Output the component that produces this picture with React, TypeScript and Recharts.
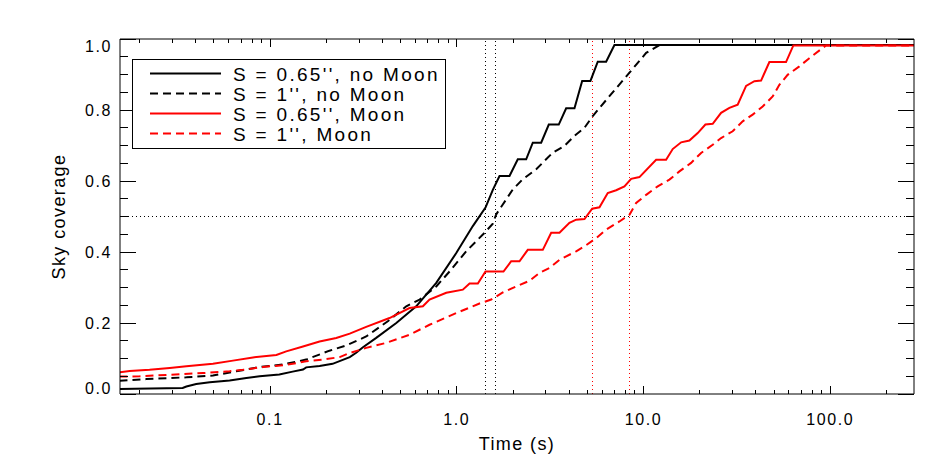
import React from 'react';
import { LineChart, Line, XAxis, YAxis, ReferenceLine } from 'recharts';

document.body.style.margin = '0';

// exposure time (s) and sky coverage
const timeNoMoon65 = [0.0156, 0.0188, 0.034, 0.0356, 0.0402, 0.0475, 0.0607, 0.0746, 0.0879, 0.112, 0.132, 0.150, 0.156, 0.184, 0.216, 0.267, 0.289, 0.313, 0.370, 0.474, 0.606, 0.776, 0.993, 1.218, 1.424, 1.559, 1.693, 1.915, 2.121, 2.352, 2.552, 2.830, 3.109, 3.516, 3.851, 4.267, 4.692, 5.197, 5.687, 6.306, 6.985, 281];
const covNoMoon65 = [0.014, 0.015, 0.017, 0.021, 0.028, 0.033, 0.038, 0.045, 0.050, 0.055, 0.063, 0.069, 0.075, 0.079, 0.085, 0.104, 0.116, 0.131, 0.158, 0.200, 0.247, 0.313, 0.397, 0.473, 0.525, 0.575, 0.614, 0.614, 0.661, 0.661, 0.708, 0.708, 0.759, 0.759, 0.805, 0.805, 0.882, 0.882, 0.936, 0.936, 0.983, 0.983];

const timeNoMoon1 = [0.0156, 0.0217, 0.0356, 0.0494, 0.0659, 0.0879, 0.117, 0.156, 0.208, 0.256, 0.327, 0.427, 0.536, 0.632, 0.776, 0.914, 1.123, 1.407, 1.559, 1.625, 1.763, 1.994, 2.256, 2.662, 3.266, 3.771, 4.267, 4.827, 5.347, 6.568, 8.406, 10.33, 12.17, 281];
const covNoMoon1 = [0.037, 0.042, 0.047, 0.052, 0.064, 0.076, 0.083, 0.097, 0.122, 0.137, 0.162, 0.205, 0.247, 0.266, 0.303, 0.345, 0.402, 0.454, 0.480, 0.506, 0.534, 0.576, 0.605, 0.633, 0.680, 0.699, 0.727, 0.750, 0.783, 0.839, 0.905, 0.961, 0.983, 0.983];

const timeMoon65 = [0.0156, 0.0177, 0.0226, 0.029, 0.0356, 0.0494, 0.0632, 0.0809, 0.108, 0.122, 0.150, 0.184, 0.226, 0.267, 0.327, 0.436, 0.558, 0.658, 0.714, 0.878, 1.077, 1.170, 1.296, 1.424, 1.778, 1.955, 2.166, 2.399, 2.887, 3.202, 3.547, 4.011, 4.357, 4.827, 5.307, 5.807, 6.432, 7.133, 7.902, 8.584, 9.508, 11.68, 13.21, 14.33, 15.90, 17.61, 19.51, 21.45, 23.47, 26.03, 28.84, 31.94, 35.43, 39.24, 42.62, 47.21, 57.98, 63.46, 281];
const covMoon65 = [0.061, 0.065, 0.068, 0.073, 0.078, 0.085, 0.094, 0.103, 0.110, 0.120, 0.134, 0.148, 0.158, 0.170, 0.189, 0.214, 0.242, 0.247, 0.266, 0.285, 0.294, 0.311, 0.311, 0.345, 0.345, 0.374, 0.374, 0.406, 0.406, 0.454, 0.454, 0.482, 0.491, 0.493, 0.522, 0.526, 0.566, 0.574, 0.585, 0.606, 0.611, 0.660, 0.660, 0.690, 0.709, 0.714, 0.735, 0.759, 0.761, 0.792, 0.806, 0.815, 0.868, 0.881, 0.883, 0.935, 0.935, 0.982, 0.982];

const timeMoon1 = [0.0156, 0.020, 0.029, 0.0437, 0.0607, 0.0715, 0.0915, 0.122, 0.156, 0.192, 0.236, 0.262, 0.327, 0.419, 0.558, 0.714, 0.993, 1.323, 1.528, 1.763, 2.080, 2.450, 2.772, 3.136, 3.547, 4.357, 4.827, 5.576, 6.306, 7.430, 8.406, 9.129, 10.33, 11.91, 13.76, 15.57, 17.98, 20.34, 23.47, 26.03, 30.03, 33.97, 38.42, 43.47, 49.17, 53.40, 59.13, 68.33, 77.29, 94.95, 281];
const covMoon1 = [0.049, 0.050, 0.054, 0.059, 0.064, 0.068, 0.076, 0.082, 0.092, 0.097, 0.104, 0.114, 0.130, 0.144, 0.167, 0.195, 0.228, 0.255, 0.266, 0.286, 0.303, 0.319, 0.341, 0.355, 0.378, 0.402, 0.416, 0.439, 0.463, 0.486, 0.505, 0.538, 0.561, 0.585, 0.604, 0.627, 0.651, 0.679, 0.702, 0.721, 0.740, 0.768, 0.787, 0.810, 0.838, 0.871, 0.899, 0.923, 0.946, 0.982, 0.982];

// times where coverage reaches 50%
const halfNoMoon = [1.42, 1.62];
const halfMoon = [5.3, 8.4];

const xRange = [0.0157, 281];
const xTicks = [0.02, 0.03, 0.04, 0.05, 0.06, 0.07, 0.08, 0.09, 0.1, 0.2, 0.3, 0.4, 0.5, 0.6, 0.7, 0.8, 0.9, 1, 2, 3, 4, 5, 6, 7, 8, 9, 10, 20, 30, 40, 50, 60, 70, 80, 90, 100, 200];
const xMajor = [0.1, 1, 10, 100];
const yTicks = [0, 0.05, 0.1, 0.15, 0.2, 0.25, 0.3, 0.35, 0.4, 0.45, 0.5, 0.55, 0.6, 0.65, 0.7, 0.75, 0.8, 0.85, 0.9, 0.95, 1];
const yMajor = [0, 0.2, 0.4, 0.6, 0.8, 1];

const series = [
  { name: "S = 0.65'', no Moon", t: timeNoMoon65, c: covNoMoon65, color: '#000000', dash: undefined },
  { name: "S = 1'', no Moon", t: timeNoMoon1, c: covNoMoon1, color: '#000000', dash: '8 5' },
  { name: "S = 0.65'', Moon", t: timeMoon65, c: covMoon65, color: '#ff0000', dash: undefined },
  { name: "S = 1'', Moon", t: timeMoon1, c: covMoon1, color: '#ff0000', dash: '8 5' },
];

const markers = [
  ...halfNoMoon.map((t) => ({ t, color: '#000000' })),
  ...halfMoon.map((t) => ({ t, color: '#ff0000' })),
];

const FONT = "'Liberation Sans', Arial, sans-serif";
const textStyle = { fontFamily: FONT, fontSize: 16, letterSpacing: 1.6, fill: '#000' };

const BottomTick = (props: any) => {
  const { x, y, payload } = props;
  const major = xMajor.includes(payload.value);
  return (
    <g>
      <line x1={x} x2={x} y1={y} y2={y - (major ? 8 : 4)} stroke="#000" shapeRendering="crispEdges" />
      {major && (
        <text x={x} y={y + 31} textAnchor="middle" style={textStyle}>
          {payload.value.toFixed(1)}
        </text>
      )}
    </g>
  );
};

const TopTick = (props: any) => {
  const { x, y, payload } = props;
  const major = xMajor.includes(payload.value);
  return <line x1={x} x2={x} y1={y} y2={y + (major ? 8 : 4)} stroke="#000" shapeRendering="crispEdges" />;
};

const LeftTick = (props: any) => {
  const { x, y, payload } = props;
  const major = yMajor.includes(payload.value);
  // end labels are pulled inside the frame, as in the original
  const dy = payload.value === 0 ? 0 : payload.value === 1 ? 13 : 6;
  return (
    <g>
      <line x1={x} x2={x + (major ? 16 : 8)} y1={y} y2={y} stroke="#000" shapeRendering="crispEdges" />
      {major && (
        <text x={x - 8} y={y + dy} textAnchor="end" style={textStyle}>
          {payload.value.toFixed(1)}
        </text>
      )}
    </g>
  );
};

const RightTick = (props: any) => {
  const { x, y, payload } = props;
  const major = yMajor.includes(payload.value);
  return <line x1={x} x2={x - (major ? 16 : 8)} y1={y} y2={y} stroke="#000" shapeRendering="crispEdges" />;
};

const XTitle = (props: any) => {
  const { viewBox } = props;
  return (
    <text x={viewBox.x + viewBox.width / 2} y={viewBox.y + 56} textAnchor="middle" style={{ ...textStyle, fontSize: 18, letterSpacing: 1.4 }}>
      Time (s)
    </text>
  );
};

const YTitle = (props: any) => {
  const { viewBox } = props;
  const cx = viewBox.x + 65;
  const cy = viewBox.y + viewBox.height / 2;
  return (
    <text x={cx} y={cy} transform={`rotate(-90 ${cx} ${cy})`} textAnchor="middle" style={{ ...textStyle, fontSize: 18, letterSpacing: 1.4 }}>
      Sky coverage
    </text>
  );
};

function LegendBox() {
  return (
    <svg width={314} height={90} style={{ position: 'absolute', left: 132, top: 59 }}>
      <rect x={0.5} y={0.5} width={313} height={89} fill="#fff" stroke="#000" shapeRendering="crispEdges" />
      {series.map((s, i) => (
        <g key={s.name}>
          <line x1={18} x2={89} y1={14.5 + i * 20} y2={14.5 + i * 20} stroke={s.color} strokeWidth={2} strokeDasharray={s.dash} />
          <text x={101} y={21.5 + i * 20} style={{ ...textStyle, fontSize: 19, letterSpacing: 2.3 }}>
            {s.name}
          </text>
        </g>
      ))}
    </svg>
  );
}

export default function App() {
  return (
    <div style={{ position: 'relative', width: 950, height: 475, background: '#fff' }}>
      <LineChart width={950} height={475} margin={{ top: 0, right: 0, bottom: 0, left: 0 }}>
        <XAxis
          xAxisId="bottom"
          dataKey="x"
          type="number"
          scale="log"
          domain={xRange}
          allowDataOverflow
          ticks={xTicks}
          interval={0}
          height={81}
          tickSize={0}
          tickMargin={0}
          tickLine={false}
          tick={<BottomTick />}
          axisLine={{ stroke: '#000' }}
          label={<XTitle />}
        />
        <XAxis
          xAxisId="top"
          orientation="top"
          dataKey="x"
          type="number"
          scale="log"
          domain={xRange}
          allowDataOverflow
          ticks={xTicks}
          interval={0}
          height={39}
          tickSize={0}
          tickMargin={0}
          tickLine={false}
          tick={<TopTick />}
          axisLine={{ stroke: '#000' }}
        />
        <YAxis
          yAxisId="left"
          type="number"
          domain={[0, 1]}
          allowDataOverflow
          ticks={yTicks}
          interval={0}
          width={120}
          tickSize={0}
          tickMargin={0}
          tickLine={false}
          tick={<LeftTick />}
          axisLine={{ stroke: '#000' }}
          label={<YTitle />}
        />
        <YAxis
          yAxisId="right"
          orientation="right"
          type="number"
          domain={[0, 1]}
          allowDataOverflow
          ticks={yTicks}
          interval={0}
          width={36}
          tickSize={0}
          tickMargin={0}
          tickLine={false}
          tick={<RightTick />}
          axisLine={{ stroke: '#000' }}
        />
        <ReferenceLine xAxisId="bottom" yAxisId="left" y={0.5} stroke="#000" strokeDasharray="1 3" shapeRendering="crispEdges" />
        {markers.map((m) => (
          <Line
            key={'m' + m.t}
            xAxisId="bottom"
            yAxisId="left"
            data={[{ x: m.t, y: 0 }, { x: m.t, y: 1 }]}
            dataKey="y"
            type="linear"
            stroke={m.color}
            strokeWidth={1}
            strokeDasharray="1 3"
            shapeRendering="crispEdges"
            dot={false}
            activeDot={false}
            legendType="none"
            isAnimationActive={false}
          />
        ))}
        {series.map((s) => (
          <Line
            key={s.name}
            xAxisId="bottom"
            yAxisId="left"
            data={s.t.map((t, i) => ({ x: t, y: s.c[i] }))}
            dataKey="y"
            type="linear"
            stroke={s.color}
            strokeWidth={2}
            strokeDasharray={s.dash}
            dot={false}
            activeDot={false}
            isAnimationActive={false}
          />
        ))}
      </LineChart>
      <LegendBox />
    </div>
  );
}
